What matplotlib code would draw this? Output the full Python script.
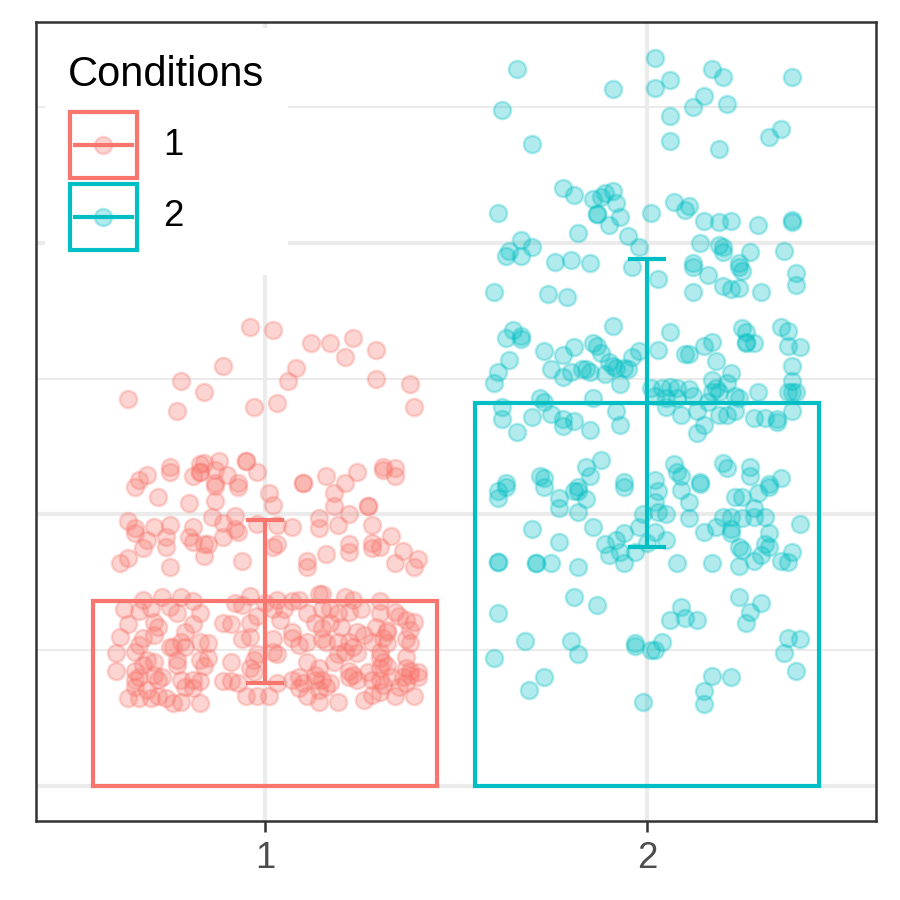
import matplotlib
matplotlib.use("Agg")
import matplotlib.pyplot as plt
from matplotlib.patches import Rectangle
from matplotlib.lines import Line2D

plt.rcParams['font.family'] = ['Liberation Sans', 'DejaVu Sans']

conditions = ["1", "2"]
colors = ["#F8766D", "#00BFC4"]
means = [1.36, 2.82]
sds = [0.60, 1.06]

# jittered raw observations, condition 1
cond1_x = [0.96, 1.02, 1.12, 1.17, 1.23, 1.21, 1.29, 0.89, 1.08, 0.78, 1.06, 1.29, 1.38, 1.39, 0.84, 0.64, 0.77, 0.97, 1.03,
           0.75, 0.75, 0.83, 0.84, 0.83, 0.81, 0.83, 0.88, 0.87, 0.90, 0.95, 0.95, 0.98, 0.69, 0.67, 0.66, 0.93, 0.93, 0.87, 0.87,
           0.72, 0.80, 0.87, 1.01, 1.02, 0.64, 0.66, 0.66, 0.71, 0.75, 0.81, 0.80, 0.81, 0.86, 0.89, 0.92, 0.92, 0.93, 0.89,
           0.74, 0.74, 0.69, 0.68, 0.84, 0.85, 0.84, 0.62, 0.64, 0.75, 0.94, 0.98, 1.02,
           1.10, 1.10, 1.16, 1.21, 1.24, 1.31, 1.31, 1.34, 1.34, 1.18, 1.18, 1.22, 1.27, 1.27, 1.14, 1.14, 1.19, 1.28, 1.07,
           1.03, 1.03, 1.22, 1.22, 1.28, 1.28, 1.30, 1.33, 1.36, 1.40, 1.39, 1.34, 1.16, 1.11, 1.11,
           0.68, 0.73, 0.78, 0.81, 0.63, 0.67, 0.70, 0.75, 0.77, 0.83, 0.92, 0.94, 0.96, 1.00, 0.64, 0.71, 0.72, 0.81, 0.89,
           0.91, 0.96, 0.98, 0.62, 0.68, 0.67, 0.71, 0.79, 0.78, 0.76, 0.79, 0.83, 0.85, 0.94, 0.96, 0.61, 0.66, 0.75, 0.69,
           0.71, 0.68, 0.77, 0.77, 0.83, 0.85, 0.84, 0.91, 0.97, 0.98, 0.61, 0.66, 0.67, 0.66, 0.71, 0.73, 0.72, 0.78, 0.81,
           0.83, 0.79, 0.81, 0.89, 0.91, 0.93, 0.96, 0.97, 0.66, 0.69, 0.64, 0.67, 0.70, 0.72, 0.74, 0.78, 0.83, 0.76, 0.95,
           0.98, 1.01,
           1.03, 1.07, 1.09, 1.14, 1.15, 1.21, 1.23, 1.30, 1.02, 1.05, 1.04, 1.11, 1.15, 1.17, 1.19, 1.22, 1.25, 1.30, 1.34,
           1.35, 1.37, 1.39, 1.07, 1.13, 1.15, 1.17, 1.20, 1.24, 1.26, 1.29, 1.32, 1.32, 1.38, 1.02, 1.07, 1.09, 1.11, 1.15,
           1.16, 1.19, 1.22, 1.23, 1.28, 1.31, 1.32, 1.37, 1.38, 1.02, 1.03, 1.19, 1.21, 1.24, 1.30, 1.30, 1.31, 1.37, 1.11,
           1.14, 1.18, 1.22, 1.27, 1.30, 1.32, 1.37, 1.38, 1.40, 1.03, 1.07, 1.09, 1.10, 1.13, 1.13, 1.15, 1.17, 1.22, 1.23,
           1.24, 1.28, 1.30, 1.33, 1.36, 1.40, 1.38, 1.31, 1.35, 1.37, 1.09, 1.14, 1.16, 1.11, 1.14, 1.19, 1.26, 1.28, 1.30,
           1.34, 1.39]
cond1_y = [3.38, 3.36, 3.26, 3.26, 3.30, 3.16, 3.21, 3.09, 3.08, 2.98, 2.98, 3.00, 2.96, 2.79, 2.90, 2.85, 2.76, 2.79, 2.82,
           2.35, 2.31, 2.37, 2.38, 2.31, 2.28, 2.31, 2.39, 2.33, 2.29, 2.39, 2.39, 2.31, 2.29, 2.25, 2.20, 2.23, 2.20, 2.23, 2.21,
           2.13, 2.08, 2.10, 2.16, 2.07, 1.95, 1.90, 1.86, 1.91, 1.92, 1.91, 1.83, 1.80, 1.98, 1.94, 1.99, 1.89, 1.87, 1.83,
           1.83, 1.76, 1.81, 1.75, 1.78, 1.78, 1.69, 1.64, 1.68, 1.61, 1.66, 1.93, 1.76,
           2.23, 2.23, 2.28, 2.23, 2.31, 2.35, 2.33, 2.34, 2.28, 2.16, 2.06, 2.00, 2.06, 2.06, 1.97, 1.90, 1.92, 1.92, 1.91,
           1.92, 1.78, 1.78, 1.72, 1.79, 1.75, 1.76, 1.84, 1.73, 1.67, 1.61, 1.64, 1.71, 1.66, 1.61,
           1.37, 1.39, 1.39, 1.36, 1.30, 1.29, 1.31, 1.32, 1.27, 1.27, 1.35, 1.33, 1.40, 1.35, 1.19, 1.21, 1.17, 1.19, 1.20,
           1.19, 1.20, 1.25, 1.10, 1.09, 1.04, 1.11, 1.13, 1.06, 1.02, 1.02, 1.06, 1.05, 1.08, 1.10, 0.98, 0.99, 1.02, 0.93,
           0.91, 0.89, 0.93, 0.89, 0.93, 0.94, 0.88, 0.91, 0.93, 0.97, 0.85, 0.85, 0.80, 0.78, 0.82, 0.80, 0.78, 0.78, 0.78,
           0.77, 0.73, 0.72, 0.77, 0.77, 0.76, 0.87, 0.84, 0.73, 0.71, 0.65, 0.65, 0.65, 0.66, 0.65, 0.62, 0.61, 0.61, 0.66,
           0.66, 0.66,
           1.37, 1.36, 1.37, 1.41, 1.41, 1.39, 1.37, 1.36, 1.30, 1.30, 1.22, 1.27, 1.30, 1.30, 1.27, 1.28, 1.30, 1.27, 1.28,
           1.25, 1.22, 1.21, 1.13, 1.20, 1.16, 1.20, 1.17, 1.13, 1.11, 1.17, 1.15, 1.13, 1.15, 1.08, 1.09, 1.04, 1.06, 1.08,
           1.06, 1.06, 1.06, 1.02, 1.06, 1.09, 1.05, 1.08, 1.05, 0.99, 0.97, 0.97, 0.99, 0.98, 0.99, 0.94, 0.91, 0.95, 0.91,
           0.87, 0.91, 0.85, 0.84, 0.87, 0.88, 0.87, 0.85, 0.84, 0.76, 0.78, 0.80, 0.76, 0.82, 0.78, 0.78, 0.76, 0.80, 0.82,
           0.78, 0.78, 0.78, 0.80, 0.80, 0.80, 0.82, 0.74, 0.73, 0.76, 0.72, 0.71, 0.73, 0.66, 0.62, 0.62, 0.63, 0.67, 0.69,
           0.66, 0.66]

# jittered raw observations, condition 2
cond2_x = [1.66, 1.91, 1.62, 1.70, 1.78, 1.81, 1.86, 1.88, 1.89, 1.91, 1.92, 1.87, 1.87, 1.93, 1.90, 1.61, 1.82, 1.67,
           1.70, 1.64, 1.63, 1.67, 1.95, 1.98, 1.76, 1.80, 1.85,
           2.02, 2.02, 2.06, 2.17, 2.20, 2.38, 2.15, 2.12, 2.21, 2.06, 2.35, 2.32, 2.06, 2.19, 2.07, 2.11, 2.10, 2.01, 2.15,
           2.19, 2.22, 2.29, 2.38, 2.38, 2.14, 2.19, 2.20, 2.20, 2.27, 2.36, 2.12, 2.24,
           1.96, 1.60, 1.74, 1.79, 1.91, 1.65, 1.63, 1.67, 1.67, 1.73, 1.78, 1.81, 1.86, 1.87, 1.88, 1.98, 1.96, 1.64, 1.61,
           1.60, 1.75, 1.78, 1.80, 1.83, 1.84, 1.85, 1.90, 1.91, 1.92, 1.94, 1.95, 1.89, 1.93, 1.86, 1.72, 1.73, 1.62, 1.62,
           1.66, 1.70, 1.75, 1.78, 1.81, 1.78, 1.85, 1.92, 1.93, 1.88, 1.84, 1.85, 1.72, 1.73, 1.63, 1.94, 1.82,
           2.03, 2.12, 2.16, 2.20, 2.22, 2.24, 2.25, 2.24, 2.12, 2.30, 2.39, 2.39, 2.06, 2.03, 2.10, 2.11, 2.15, 2.17, 2.18,
           2.25, 2.26, 2.26, 2.28, 2.26, 2.35, 2.37, 2.37, 2.40, 2.38, 2.01, 2.04, 2.06, 2.08, 2.11, 2.02, 2.05, 2.08, 2.12,
           2.05, 2.09, 2.17, 2.18, 2.17, 2.19, 2.21, 2.22, 2.23, 2.24, 2.29, 2.38, 2.37, 2.38, 2.39, 2.38, 2.13, 2.15, 2.13,
           2.19, 2.21, 2.23, 2.28, 2.31, 2.34, 2.34, 2.16, 2.07, 2.08, 2.09, 2.20, 2.21, 2.27, 2.27, 2.02, 2.14, 2.32, 2.35,
           1.61, 1.61, 1.63, 1.73, 1.77, 1.77, 1.81, 1.82, 1.84, 1.82, 1.94, 1.86, 1.89, 1.90, 1.92, 1.94, 1.93, 1.94, 1.97,
           1.98, 1.99, 1.70, 1.77, 1.61, 1.61, 1.71, 1.71, 1.75, 1.82, 1.81, 1.87, 1.61, 1.68, 1.80, 1.82, 1.97, 1.97, 2.01,
           1.60, 1.73, 1.69, 1.99,
           2.03, 2.02, 2.03, 2.05, 2.09, 2.11, 2.11, 2.14, 2.23, 2.25, 2.28, 2.29, 2.32, 2.28, 2.31, 2.20, 2.22, 2.25, 2.22,
           2.22, 2.15, 2.18, 2.40, 2.02, 2.05, 2.00, 2.32, 2.31, 2.32, 2.30, 2.28, 2.24, 2.25, 2.24, 2.35, 2.37, 2.38, 2.08,
           2.17, 2.24, 2.27, 2.30, 2.26, 2.09, 2.06, 2.10, 2.13, 2.37, 2.40, 2.36, 2.39, 2.04, 2.02, 2.17, 2.22, 2.15, 2.15]
cond2_y = [5.28, 5.13, 4.98, 4.73, 4.40, 4.35, 4.32, 4.34, 4.37, 4.38, 4.29, 4.21, 4.21, 4.19, 4.13, 4.22, 4.07, 4.02,
           3.97, 3.94, 3.90, 3.90, 4.05, 3.97, 3.86, 3.87, 3.85,
           5.36, 5.14, 5.20, 5.28, 5.22, 5.22, 5.08, 5.00, 5.02, 4.93, 4.84, 4.78, 4.75, 4.69, 4.30, 4.27, 4.24, 4.22, 4.16,
           4.15, 4.16, 4.13, 4.17, 4.15, 4.00, 3.98, 3.97, 3.93, 3.93, 3.94, 3.85, 3.85,
           3.82, 3.64, 3.62, 3.60, 3.39, 3.36, 3.30, 3.31, 3.29, 3.20, 3.17, 3.23, 3.26, 3.24, 3.19, 3.20, 3.16, 3.14, 3.05,
           2.97, 3.07, 3.01, 3.05, 3.07, 3.07, 3.05, 3.12, 3.09, 3.08, 3.08, 3.07, 3.03, 2.96, 2.86, 2.86, 2.83, 2.79, 2.70,
           2.61, 2.72, 2.74, 2.70, 2.69, 2.65, 2.62, 2.76, 2.66, 2.40, 2.35, 2.28, 2.28, 2.27, 2.23, 2.24, 2.20,
           3.73, 3.82, 3.76, 3.68, 3.66, 3.67, 3.79, 3.82, 3.64, 3.64, 3.78, 3.69, 3.34, 3.21, 3.18, 3.18, 3.24, 3.27, 3.13,
           3.37, 3.34, 3.27, 3.26, 3.26, 3.38, 3.35, 3.24, 3.23, 3.09, 2.93, 2.93, 2.94, 2.93, 2.92, 2.87, 2.86, 2.86, 2.87,
           2.79, 2.73, 2.99, 2.93, 2.90, 2.90, 2.97, 3.04, 2.87, 2.86, 2.90, 2.98, 2.90, 2.90, 2.90, 2.76, 2.76, 2.66, 2.60,
           2.73, 2.73, 2.76, 2.71, 2.71, 2.70, 2.68, 2.83, 2.37, 2.31, 2.28, 2.38, 2.34, 2.35, 2.28, 2.25, 2.24, 2.22, 2.27,
           2.17, 2.12, 2.20, 2.20, 2.12, 2.05, 2.17, 2.17, 2.11, 2.02, 2.20, 1.91, 1.78, 1.70, 1.81, 1.86, 1.72, 1.64, 1.72,
           1.91, 2.00, 1.89, 1.80, 1.65, 1.65, 1.64, 1.64, 1.64, 1.61, 1.39, 1.33, 1.27, 1.07, 1.07, 0.97, 1.05, 1.03, 1.00,
           0.94, 0.80, 0.71, 0.62,
           2.17, 2.09, 2.02, 2.00, 2.18, 2.09, 1.97, 2.22, 2.13, 2.13, 2.05, 2.16, 2.20, 1.98, 1.98, 1.98, 1.98, 1.97, 1.89,
           1.86, 1.87, 1.91, 1.93, 1.87, 1.81, 1.79, 1.86, 1.78, 1.76, 1.70, 1.66, 1.76, 1.74, 1.62, 1.66, 1.65, 1.72, 1.64,
           1.64, 1.39, 1.28, 1.35, 1.20, 1.32, 1.22, 1.24, 1.22, 1.09, 1.08, 0.98, 0.85, 1.06, 1.00, 0.81, 0.80, 0.70, 0.60]

groups_x = [cond1_x, cond2_x]
groups_y = [cond1_y, cond2_y]
positions = [1, 2]

fig = plt.figure(figsize=(3, 3), dpi=300)
ax = fig.add_axes([0.04, 0.0878, 0.9333, 0.8878])

for pos, xs, ys, col in zip(positions, groups_x, groups_y, colors):
    m = means[pos - 1]
    sd = sds[pos - 1]
    ax.scatter(xs, ys, s=17, facecolor=col, edgecolor=col, linewidths=0.6, alpha=0.3, zorder=2)
    ax.bar(pos, m, width=0.9, facecolor="none", edgecolor=col, linewidth=1.0, zorder=3)
    ax.vlines(pos, m - sd, m + sd, color=col, linewidth=1.0, zorder=4)
    # caps
    ax.hlines([m - sd, m + sd], pos - 0.05, pos + 0.05, color=col, linewidth=1.0, zorder=4)

ax.set_xlim(0.4, 2.6)
ax.set_ylim(-0.258, 5.626)
ax.set_xticks(positions)
ax.set_xticklabels(conditions, fontsize=8.8, color="#4D4D4D")
ax.set_yticks([0, 2, 4])
ax.set_yticks([1, 3, 5], minor=True)
ax.tick_params(axis="y", which="both", left=False, labelleft=False)
ax.tick_params(axis="x", length=2.75, width=0.6, color="#333333", pad=2)
ax.tick_params(axis="x", which="minor", bottom=False)
ax.grid(True, which="major", color="#EBEBEB", linewidth=1.0, zorder=0)
ax.grid(True, which="minor", axis="y", color="#EBEBEB", linewidth=0.5, zorder=0)
ax.set_axisbelow(True)
for sp in ax.spines.values():
    sp.set_color("#333333")
    sp.set_linewidth(0.6)

# legend, drawn by hand in axes fraction
tr = ax.transAxes
ax.add_patch(Rectangle((0.0107, 0.683), 0.289, 0.309, transform=tr, facecolor="white",
                       edgecolor="none", zorder=5))
ax.text(0.038, 0.933, "Conditions", transform=tr, fontsize=10, va="center", ha="left", zorder=6)
key_y = [0.846, 0.756]
for ky, col, lab in zip(key_y, colors, conditions):
    ax.add_patch(Rectangle((0.0405, ky - 0.041), 0.0795, 0.082, transform=tr, facecolor="white",
                           edgecolor=col, linewidth=1.0, zorder=6))
    ax.add_line(Line2D([0.047, 0.114], [ky, ky], transform=tr, color=col, linewidth=1.0, zorder=7))
    ax.add_line(Line2D([0.0798], [ky], transform=tr, marker="o", markersize=4.1,
                       markerfacecolor=col, markeredgecolor=col, markeredgewidth=0.6,
                       alpha=0.3, linestyle="none", zorder=7))
    ax.text(0.151, ky, lab, transform=tr, fontsize=8.8, va="center", ha="left", zorder=7)

fig.savefig("out.png", dpi=300, facecolor="white")
